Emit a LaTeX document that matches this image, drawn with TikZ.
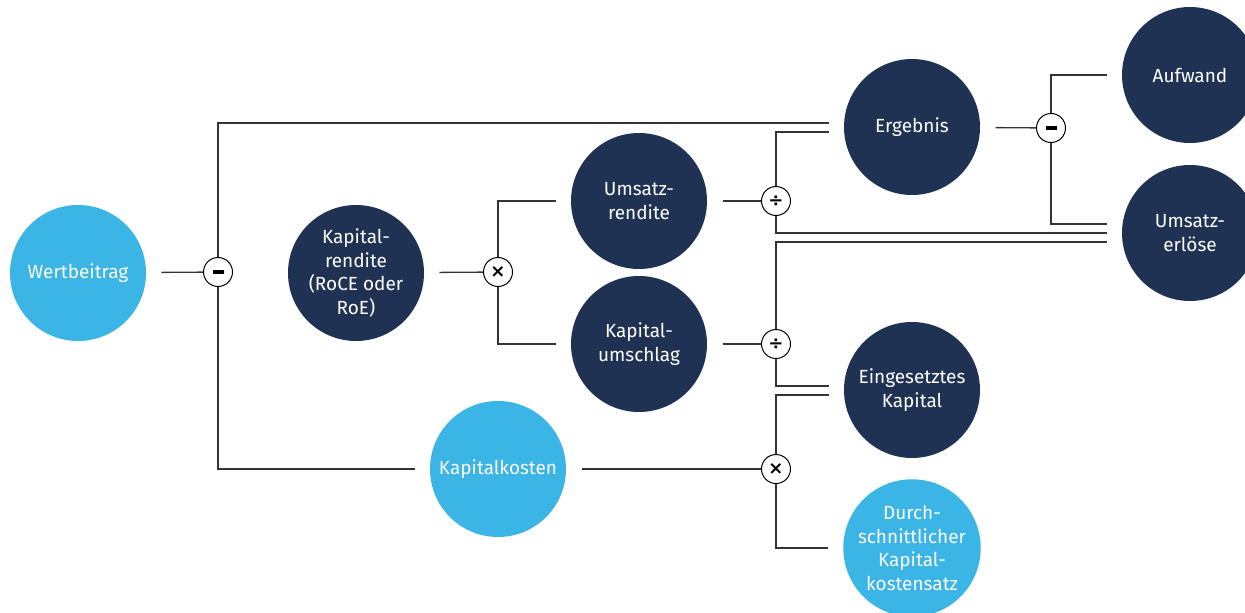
\documentclass[tikz,border=0pt]{standalone}
\usepackage{fontspec}
\setmainfont{Fira Sans}
\newfontfamily\symfont{DejaVu Sans}
\definecolor{lightblue}{HTML}{3BB4E6}
\definecolor{navy}{HTML}{1F3254}
\definecolor{linegray}{HTML}{333333}
\begin{document}
\begin{tikzpicture}[x=1pt,y=-1pt,
  bubble/.style={circle,minimum size=136pt,inner sep=0pt,outer sep=15.5pt,text=white,align=center,font=\fontsize{19}{23.5}\selectfont},
  darkbub/.style={bubble,fill=navy},
  lightbub/.style={bubble,fill=lightblue},
  opnode/.style={circle,draw=black,line width=1pt,fill=white,minimum size=29pt,inner sep=0pt,font=\symfont\bfseries\fontsize{18}{18}\selectfont},
  conn/.style={draw=linegray,line width=1.3pt}]
\useasboundingbox (0,0) rectangle (1245,613);
\begin{scope}
\clip (0,0) rectangle (1245,613);
\node[lightbub] (wb) at (78,273) {Wertbeitrag};
\node[darkbub] (kr) at (356,273) {Kapital-\\rendite\\(RoCE oder\\RoE)};
\node[darkbub] (ur) at (639,201) {Umsatz-\\rendite};
\node[darkbub] (ku) at (639,344) {Kapital-\\umschlag};
\node[darkbub] (erg) at (912,127) {Ergebnis};
\node[darkbub] (auf) at (1190,75) {Aufwand};
\node[darkbub] (ue) at (1190,233) {Umsatz-\\erlöse};
\node[darkbub] (ek) at (912,390) {Eingesetztes\\Kapital};
\node[lightbub] (kk) at (498,469) {Kapitalkosten};
\node[lightbub] (dk) at (912,548) {Durch-\\schnittlicher\\Kapital-\\kostensatz};
\end{scope}

\node[opnode] (op1) at (218,272) {};
\node[opnode] (op2) at (498,272) {×};
\node[opnode] (op3) at (776,201) {÷};
\node[opnode] (op4) at (776,344) {÷};
\node[opnode] (op5) at (1051,128) {};
\node[opnode] (op6) at (776,469) {×};
\fill[black] ([xshift=-5.5pt,yshift=-1.6pt]op1.center) rectangle ([xshift=5.5pt,yshift=1.6pt]op1.center);
\fill[black] ([xshift=-5.5pt,yshift=-1.6pt]op5.center) rectangle ([xshift=5.5pt,yshift=1.6pt]op5.center);

\path[conn] (wb) -- (op1);
\path[conn] (op1.north) |- ([yshift=4pt]erg.west);
\path[conn] (op1.south) |- (kk.west);
\path[conn] (kr) -- (op2);
\path[conn] (op2.north) |- (ur.west);
\path[conn] (op2.south) |- (ku.west);
\path[conn] (ur) -- (op3);
\path[conn] (ku) -- (op4);
\path[conn] (op3.north) |- ([yshift=-5pt]erg.west);
\path[conn] (op3.south) |- (ue.west);
\path[conn] (op4.north) |- ([yshift=-9pt]ue.west);
\path[conn] (erg) -- (op5);
\path[conn] (op5.north) |- (auf.west);
\path[conn] (op5.south) |- ([yshift=9pt]ue.west);
\path[conn] (op4.south) |- ([yshift=4pt]ek.west);
\path[conn] (op6.north) |- ([yshift=-5pt]ek.west);
\path[conn] (kk) -- (op6);
\path[conn] (op6.south) |- (dk.west);
\end{tikzpicture}
\end{document}
